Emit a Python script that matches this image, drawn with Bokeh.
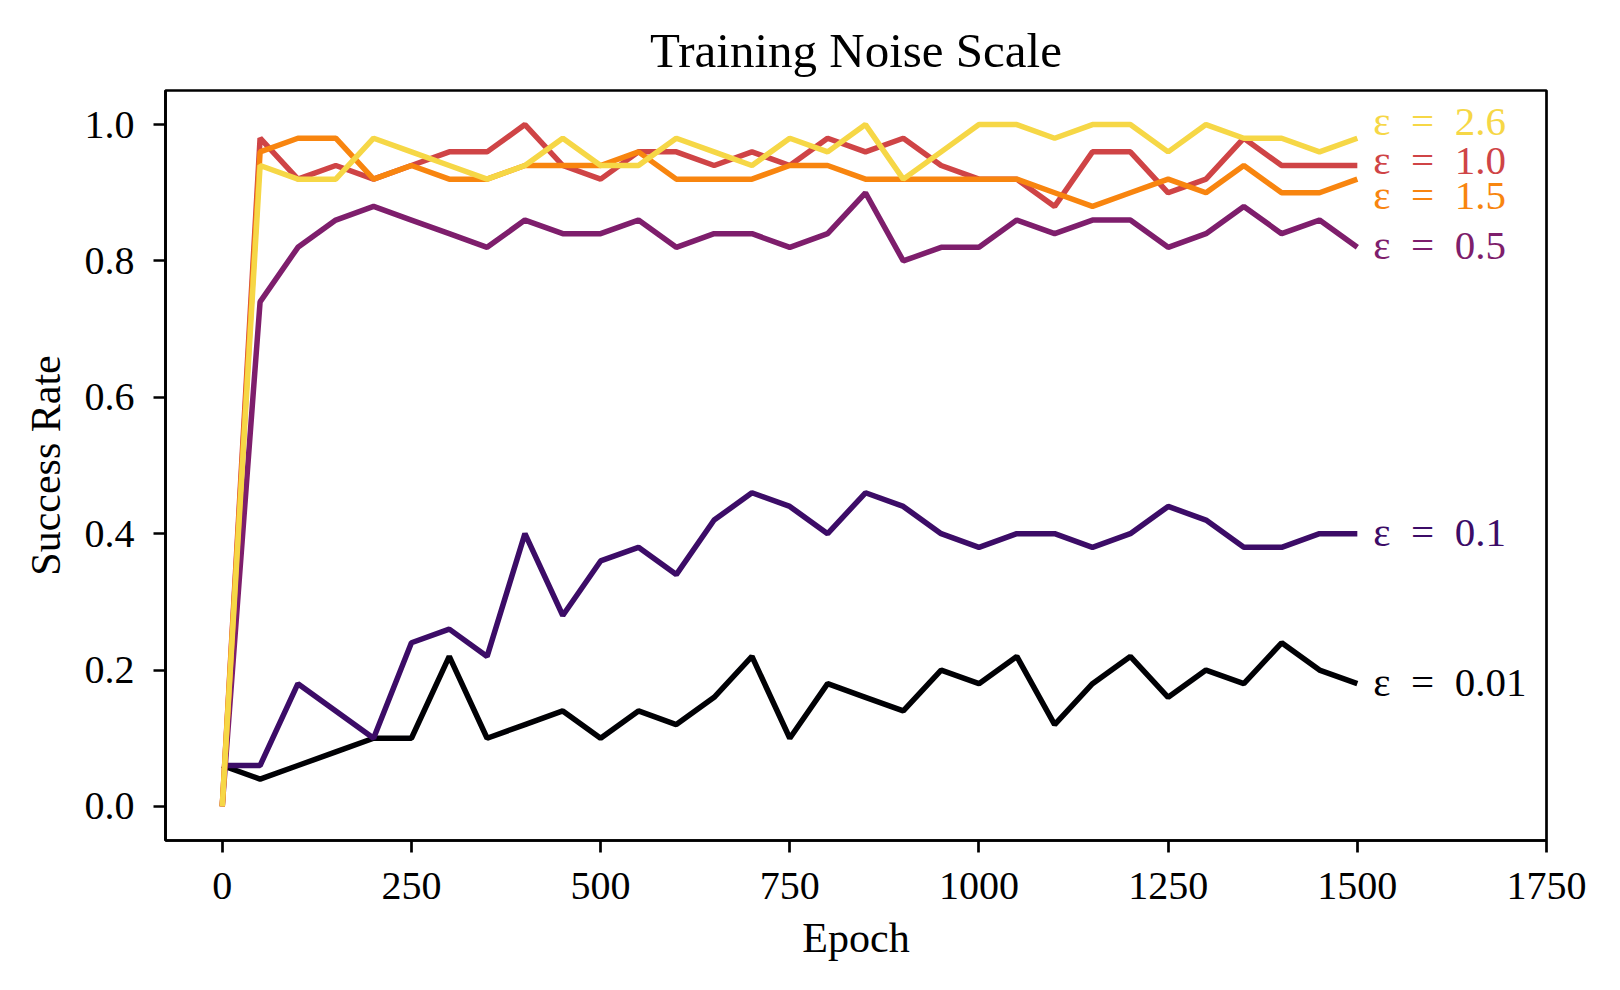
from bokeh.plotting import figure
from bokeh.models import Range1d, FixedTicker, NumeralTickFormatter, ColumnDataSource
from bokeh.core.properties import value
from bokeh.embed import file_html
from bokeh.resources import INLINE

epochs = list(range(0, 1501, 50))

eps_labels = ["0.01", "0.1", "0.5", "1.0", "1.5", "2.6"]

sr_001 = [0.06, 0.04, 0.06, 0.08, 0.10, 0.10, 0.22, 0.10, 0.12, 0.14, 0.10,
          0.14, 0.12, 0.16, 0.22, 0.10, 0.18, 0.16, 0.14, 0.20, 0.18,
          0.22, 0.12, 0.18, 0.22, 0.16, 0.20, 0.18, 0.24, 0.20, 0.18]
sr_01 = [0.06, 0.06, 0.18, 0.14, 0.10, 0.24, 0.26, 0.22, 0.40, 0.28, 0.36,
         0.38, 0.34, 0.42, 0.46, 0.44, 0.40, 0.46, 0.44, 0.40, 0.38,
         0.40, 0.40, 0.38, 0.40, 0.44, 0.42, 0.38, 0.38, 0.40, 0.40]
sr_05 = [0.00, 0.74, 0.82, 0.86, 0.88, 0.86, 0.84, 0.82, 0.86, 0.84, 0.84,
         0.86, 0.82, 0.84, 0.84, 0.82, 0.84, 0.90, 0.80, 0.82, 0.82,
         0.86, 0.84, 0.86, 0.86, 0.82, 0.84, 0.88, 0.84, 0.86, 0.82]
sr_10 = [0.00, 0.98, 0.92, 0.94, 0.92, 0.94, 0.96, 0.96, 1.00, 0.94, 0.92,
         0.96, 0.96, 0.94, 0.96, 0.94, 0.98, 0.96, 0.98, 0.94, 0.92,
         0.92, 0.88, 0.96, 0.96, 0.90, 0.92, 0.98, 0.94, 0.94, 0.94]
sr_15 = [0.00, 0.96, 0.98, 0.98, 0.92, 0.94, 0.92, 0.92, 0.94, 0.94, 0.94,
         0.96, 0.92, 0.92, 0.92, 0.94, 0.94, 0.92, 0.92, 0.92, 0.92,
         0.92, 0.90, 0.88, 0.90, 0.92, 0.90, 0.94, 0.90, 0.90, 0.92]
sr_26 = [0.00, 0.94, 0.92, 0.92, 0.98, 0.96, 0.94, 0.92, 0.94, 0.98, 0.94,
         0.94, 0.98, 0.96, 0.94, 0.98, 0.96, 1.00, 0.92, 0.96, 1.00,
         1.00, 0.98, 1.00, 1.00, 0.96, 1.00, 0.98, 0.98, 0.96, 0.98]

series = [sr_001, sr_01, sr_05, sr_10, sr_15, sr_26]
colors = ["#000004", "#3c0c67", "#7e1e6c", "#cf4446", "#f8850f", "#f6d746"]
# vertical nudges of the end labels (data units) so they do not overlap
label_nudge = [0.0, 0.0, 0.0, 0.005, -0.026, 0.023]

x_ticks = [0, 250, 500, 750, 1000, 1250, 1500, 1750]
y_ticks = [0.0, 0.2, 0.4, 0.6, 0.8, 1.0]

FONT = "Liberation Serif"

p = figure(width=1600, height=970, output_backend="svg", toolbar_location=None,
           x_range=Range1d(-75, 1750), y_range=Range1d(-0.05, 1.05),
           min_border_left=165, min_border_right=54,
           min_border_top=90, min_border_bottom=130,
           title="Training Noise Scale")
p.background_fill_color = "white"
p.border_fill_color = "white"
p.grid.visible = False
p.outline_line_color = "black"
p.outline_line_width = 2.7

p.title.text_font = FONT
p.title.text_font_size = "49px"
p.title.text_font_style = "normal"
p.title.text_color = "black"
p.title.align = "center"
p.title.standoff = 26

for ax in (p.xaxis[0], p.yaxis[0]):
    ax.axis_line_width = 2.7
    ax.axis_line_color = "black"
    ax.major_tick_line_width = 2.7
    ax.major_tick_line_color = "black"
    ax.major_tick_out = 12
    ax.major_tick_in = 0
    ax.minor_tick_line_color = None
    ax.major_label_text_font = FONT
    ax.major_label_text_font_size = "40px"
    ax.major_label_text_color = "black"
    ax.axis_label_text_font = FONT
    ax.axis_label_text_font_size = "42px"
    ax.axis_label_text_font_style = "normal"
    ax.axis_label_text_color = "black"

p.xaxis.ticker = FixedTicker(ticks=x_ticks)
p.yaxis.ticker = FixedTicker(ticks=y_ticks)
p.yaxis.formatter = NumeralTickFormatter(format="0.0")
p.xaxis.axis_label = "Epoch"
p.yaxis.axis_label = "Success Rate"
p.xaxis.major_label_standoff = 20
p.yaxis.major_label_standoff = 19
p.xaxis.axis_label_standoff = 13
p.yaxis.axis_label_standoff = 13

for vals, col, lab, nudge in zip(series, colors, eps_labels, label_nudge):
    src = ColumnDataSource(dict(x=epochs, y=vals))
    p.line("x", "y", source=src, line_color=col, line_width=5.5)
    p.text(x=[epochs[-1]], y=[vals[-1] + nudge],
           text=["\u03b5\u2002=\u2002" + lab],
           x_offset=16, y_offset=-2, text_baseline="middle", text_align="left",
           text_color=col, text_font=value(FONT), text_font_size="41px")

open("out.html", "w").write(file_html(p, INLINE))
